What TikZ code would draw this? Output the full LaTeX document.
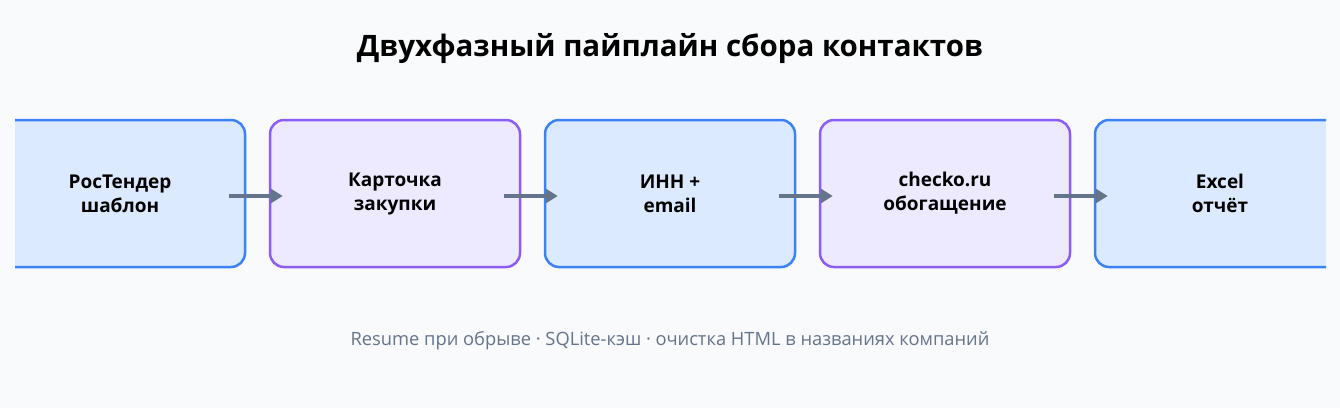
\documentclass[tikz,border=0pt]{standalone}
\usepackage{fontspec}
\setmainfont{Open Sans}
\usetikzlibrary{arrows.meta}
\definecolor{bg}{HTML}{F8FAFC}
\definecolor{bluefill}{HTML}{DBEAFE}
\definecolor{bluestroke}{HTML}{3B82F6}
\definecolor{purplefill}{HTML}{EDE9FE}
\definecolor{purplestroke}{HTML}{8B5CF6}
\definecolor{arrowc}{HTML}{64748B}
\definecolor{footc}{HTML}{64748B}
\tikzset{
  stagebox/.style={rounded corners=14pt, line width=2.5pt, minimum width=250pt, minimum height=147pt,
    inner sep=0pt, font=\fontsize{19}{24}\selectfont\bfseries, align=center, text=black},
  bluebox/.style={stagebox, fill=bluefill, draw=bluestroke},
  purplebox/.style={stagebox, fill=purplefill, draw=purplestroke},
  flow/.style={draw=arrowc, line width=3.8pt, -{Triangle[length=12pt,width=14pt]}, shorten <=-17pt, shorten >=-14pt},
}
\begin{document}
\begin{tikzpicture}[x=1pt,y=-1pt]
\fill[bg] (0,0) rectangle (1340,408);
\useasboundingbox (0,0) rectangle (1340,408);
\node (title) at (670,49) {\fontsize{29.5}{34}\selectfont\bfseries Двухфазный пайплайн сбора контактов};
\begin{scope}
\clip (15,0) rectangle (1326,408);
\node[bluebox] (s1) at (120,193.5) {РосТендер\\шаблон};
\node[purplebox] (s2) at (395,193.5) {Карточка\\закупки};
\node[bluebox] (s3) at (670,193.5) {ИНН +\\email};
\node[purplebox] (s4) at (945,193.5) {checko.ru\\обогащение};
\node[bluebox] (s5) at (1220,193.5) {Excel\\отчёт};
\end{scope}
\foreach \a/\b in {s1/s2,s2/s3,s3/s4,s4/s5}{
  \draw[flow] ([yshift=-2.5pt]\a.east) -- ([yshift=-2.5pt]\b.west);
}
\node[text=footc, font=\fontsize{18.3}{20}\selectfont] (foot) at (670,341) {Resume при обрыве · SQLite-кэш · очистка HTML в названиях компаний};
\end{tikzpicture}
\end{document}
